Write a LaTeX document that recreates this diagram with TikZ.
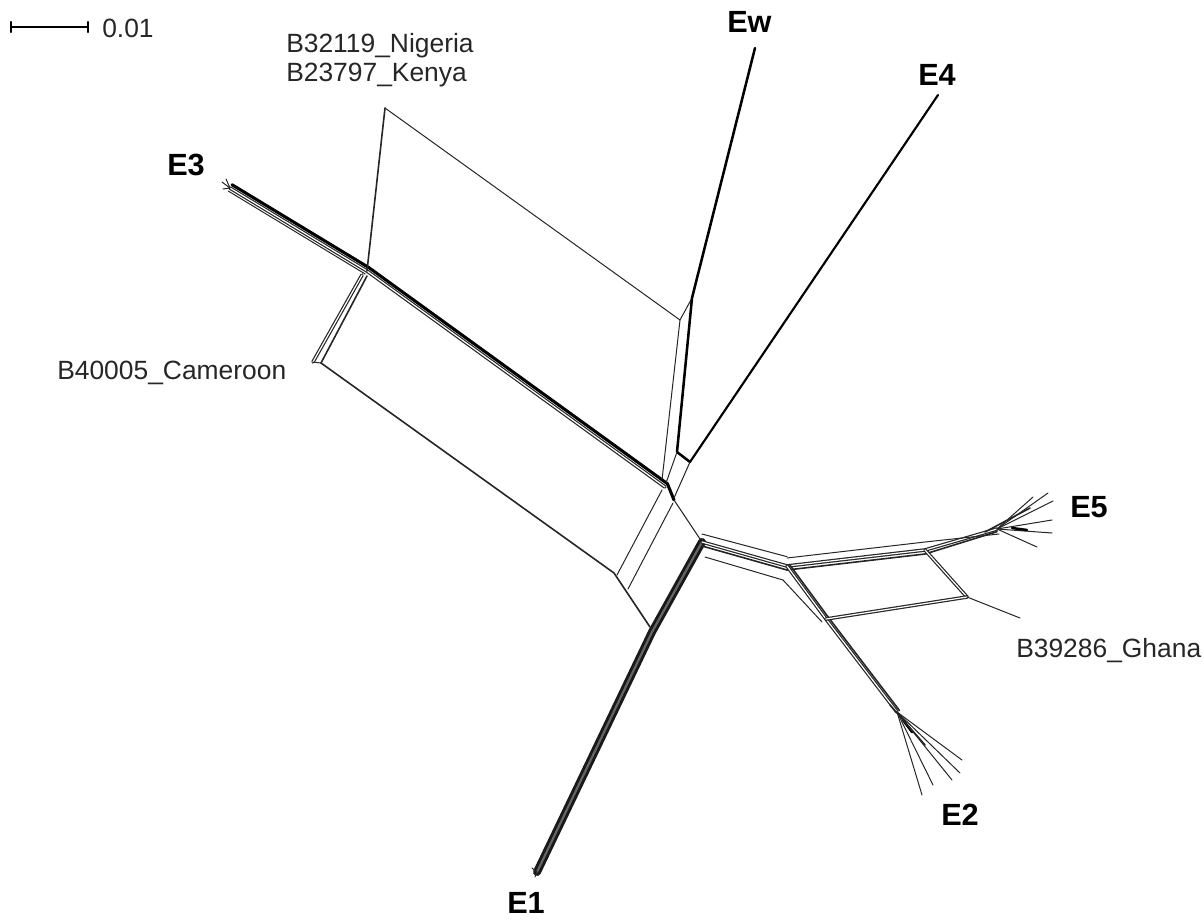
\documentclass[tikz,border=0pt]{standalone}
\usepackage{fontspec}
\setmainfont{Liberation Sans}
\begin{document}
\begin{tikzpicture}[x=0.75pt,y=-0.75pt,
  thinl/.style={line width=0.75pt,black!85},
  midl/.style={line width=1.2pt,black!85},
  thickl/.style={line width=1.9pt,black},
  band/.style={line width=0.9pt,draw=black!85,double=white,double distance=0.9pt},
  dband/.style={line width=2.2pt,draw=black!90,double=black!60,double distance=1.6pt},
  lab/.style={inner sep=0pt,anchor=base west,text=black!85,font=\fontsize{19.8}{23}\selectfont},
  blab/.style={inner sep=0pt,anchor=base west,font=\fontsize{23}{27}\selectfont\bfseries},
  line cap=round, line join=round]
\useasboundingbox (0,0) rectangle (1204,921);
% scale bar
\coordinate (sb1) at (11,27);
\coordinate (sb2) at (88,27);
\draw[line width=0.9pt] (sb1) -- (sb2);
\draw[line width=0.9pt] ([yshift=-4]sb1) -- ([yshift=4]sb1);
\draw[line width=0.9pt] ([yshift=-4]sb2) -- ([yshift=4]sb2);
\node[lab] (scale) at (102,37) {0.01};
% labels
\node[lab] (nig) at (286,52) {B32119\_Nigeria};
\node[lab] (ken) at (286,81) {B23797\_Kenya};
\node[lab] (cam) at (57,379) {B40005\_Cameroon};
\node[lab] (gha) at (1016,657) {B39286\_Ghana};
\node[blab] (E3) at (167,175) {E3};
\node[blab] (Ew) at (727,32) {Ew};
\node[blab] (E4) at (918,85) {E4};
\node[blab] (E5) at (1070,517) {E5};
\node[blab] (E2) at (941,825) {E2};
\node[blab] (E1) at (507,913) {E1};
% coordinates
\coordinate (e3t) at (230,188);
\coordinate (jk) at (367,271);
\coordinate (ct) at (665,487);
\coordinate (ct2) at (674,500);
\coordinate (kt) at (385,108);
\coordinate (kr) at (680,320);
\coordinate (ewt) at (755,48);
\coordinate (ewj) at (692,298);
\coordinate (ewb) at (677,452);
\coordinate (e4t) at (938,95);
\coordinate (e4b) at (690,462);
\coordinate (kb) at (662,480);
\coordinate (ewb2) at (666,483);
\coordinate (e4b2) at (674,498);
\coordinate (camj) at (362,275);
\coordinate (camt) at (313,362);
\coordinate (camt2) at (321,363);
\coordinate (caml) at (614,573);
\coordinate (camb) at (650,627);
\coordinate (bl1) at (617,575);
\coordinate (bl2) at (628,589);
\coordinate (bt1) at (662,490);
\coordinate (bt2) at (673,503);
\coordinate (cr) at (702,542);
\coordinate (cb) at (652,632);
\coordinate (e1t) at (537,872);
\coordinate (mj) at (787,566);
\coordinate (cr2) at (705,557);
\coordinate (mj2) at (783,580);
\coordinate (e5j) at (925,550);
\coordinate (e5f) at (997,529);
\coordinate (ghj) at (967,597);
\coordinate (ght) at (1020,618);
\coordinate (e2j) at (826,619);
\coordinate (e2f) at (897,712);
% E3 band
\draw[band] (e3t) -- (jk) -- (ct);
\draw[line width=2.3pt] ([shift={(2,-3.3)}]e3t) -- ([shift={(2,-3.3)}]jk) -- ([shift={(2.4,-3.3)}]ct) -- (ct2);
\draw[thinl] ([shift={(-1.8,3)}]e3t) -- ([shift={(-1.8,3)}]jk);
\draw[thinl] (e3t) -- (222,182);
\draw[thinl] (e3t) -- (226,179);
\draw[thinl] (e3t) -- (223,189);
% Kenya / Nigeria
\draw[midl] (jk) -- (kt);
\draw[thinl] (kt) -- (kr) -- (ewj);
\draw[thinl] (kr) -- (kb);
% Ew and E4
\draw[thickl] (ewt) -- (ewj) -- (ewb) -- (e4b);
\draw[line width=1.6pt] (e4b) -- (e4t);
\draw[thinl] (ewb) -- (ewb2);
\draw[thinl] (e4b) -- (e4b2);
% Cameroon
\draw[band] (camj) -- (camt);
\draw[midl] ([shift={(5,1)}]camj) -- (camt2);
\draw[thinl] (camt) -- (camt2);
\draw[midl] (camt2) -- (caml) -- (camb);
% central box
\draw[thinl] (bl1) -- (bt1);
\draw[thinl] (bl2) -- (bt2);
\draw[thinl] (ct2) -- (cr);
% E1 band
\draw[dband] (cr) -- (cb) -- (e1t);
\draw[thinl] (e1t) -- (532,868);
\draw[thinl] (e1t) -- (535,877);
% to E5 / E2
\draw[band] (cr) -- (mj);
\draw[midl] ([yshift=-3]cr) -- ([yshift=-3]mj);
\draw[thinl] ([yshift=6]cr) -- ([yshift=7]mj);
\draw[thinl] (cr2) -- (mj2);
\draw[band] (mj) -- (e5j) -- (e5f);
\draw[midl] ([yshift=-3]mj) -- ([yshift=-3]e5j) -- ([yshift=-2]e5f);
\draw[thinl] ([yshift=6]mj) -- ([yshift=6]e5j) -- ([shift={(2,5)}]e5f);
\draw[band] (mj) -- (e2j) -- (e2f);
\draw[midl] ([shift={(2.5,-1.5)}]mj) -- ([shift={(2.5,-1.5)}]e2j) -- ([shift={(2.5,-1.5)}]e2f);
\draw[thinl] (mj2) -- ([shift={(-4,3)}]e2j);
% Ghana
\draw[band] (e5j) -- (ghj);
\draw[band] (e2j) -- (ghj);
\draw[thinl] (ghj) -- (ght);
% E5 fan
\draw[thinl] (e5f) -- (1048,493);
\draw[thinl] (e5f) -- (1053,501);
\draw[thinl] (e5f) -- (1033,497);
\draw[thinl] (e5f) -- (1052,520);
\draw[thinl] (e5f) -- (1052,533);
\draw[thinl] (e5f) -- (1037,547);
\draw[thickl] (1012,528) -- (1027,530);
\draw[midl] (985,532) -- (1030,508);
% E2 fan
\draw[thinl] (e2f) -- (922,795);
\draw[thinl] (e2f) -- (933,785);
\draw[thinl] (e2f) -- (952,780);
\draw[thinl] (e2f) -- (960,773);
\draw[thinl] (e2f) -- (962,760);
\draw[thickl] (903,720) -- (912,732);
\draw[midl] (890,705) -- (925,745);
\end{tikzpicture}
\end{document}
